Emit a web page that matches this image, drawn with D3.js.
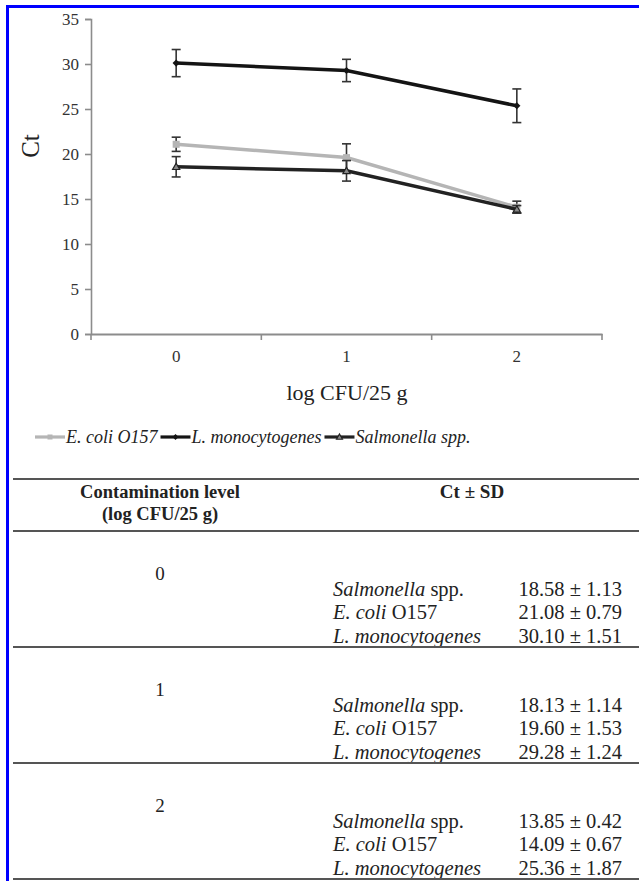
<!DOCTYPE html>
<html><head><meta charset="utf-8">
<script src="https://cdn.jsdelivr.net/npm/d3@7"></script>
<style>body{margin:0;background:#fff;} svg{display:block;} svg text{font-family:"Liberation Serif","Times New Roman",Times,"DejaVu Serif",serif;}</style>
</head><body>
<svg id="c" width="639" height="881"></svg>
<script>
const levels = ["0", "1", "2"];
const yTicks = [0, 5, 10, 15, 20, 25, 30, 35];
const seriesNames = ["E. coli O157", "L. monocytogenes", "Salmonella spp."];
const ecoliMean = [21.08, 19.60, 14.09];
const ecoliSD = [0.79, 1.53, 0.67];
const listeriaMean = [30.10, 29.28, 25.36];
const listeriaSD = [1.51, 1.24, 1.87];
const salmMean = [18.58, 18.13, 13.85];
const salmSD = [1.13, 1.14, 0.42];
const tableOrder = [["Salmonella", " spp.", 2], ["E. coli", " O157", 0], ["L. monocytogenes", "", 1]];
const xTitle = "log CFU/25 g";
const yTitle = "Ct";

const series = [
  {name: seriesNames[0], mean: ecoliMean, sd: ecoliSD, color: "#b5b5b5", marker: "square"},
  {name: seriesNames[1], mean: listeriaMean, sd: listeriaSD, color: "#141414", marker: "diamond"},
  {name: seriesNames[2], mean: salmMean, sd: salmSD, color: "#222222", marker: "triangle"}
];

const svg = d3.select("#c");

// frame
svg.append("rect").attr("x", 7.5).attr("y", 6.5).attr("width", 800).attr("height", 1000)
  .attr("fill", "none").attr("stroke", "#0000ff").attr("stroke-width", 3);

const x = d3.scaleBand().domain(levels).range([91, 602]);
const y = d3.scaleLinear().domain([0, 35]).range([334, 19]);

// axes
const yAxis = svg.append("g").attr("transform", "translate(91,0)")
  .call(d3.axisLeft(y).tickValues(yTicks).tickSize(6).tickPadding(6));
yAxis.selectAll("path, line").attr("stroke", "#8c8c8c").attr("stroke-width", 1.6);
yAxis.selectAll("text").attr("font-size", 17).attr("fill", "#333");
yAxis.attr("font-family", null);

const xAxis = svg.append("g").attr("transform", "translate(0,334)")
  .call(d3.axisBottom(x).tickSize(0).tickPadding(16));
xAxis.selectAll("path").attr("stroke", "#8c8c8c").attr("stroke-width", 2);
xAxis.selectAll("text").attr("font-size", 17).attr("fill", "#333");
xAxis.attr("font-family", null);
const bounds = levels.map(l => x(l)).concat([x(levels[levels.length-1]) + x.bandwidth()]);
xAxis.selectAll("line.b").data(bounds).enter().append("line").attr("class", "b")
  .attr("x1", d => d).attr("x2", d => d).attr("y1", 0).attr("y2", 6)
  .attr("stroke", "#8c8c8c").attr("stroke-width", 1.6);

svg.append("text").attr("x", 30).attr("y", 146).attr("transform", "rotate(-90,30,146)")
  .attr("text-anchor", "middle").attr("dominant-baseline", "central")
  .attr("font-size", 25).attr("fill", "#222").text(yTitle);
svg.append("text").attr("x", 347).attr("y", 400).attr("text-anchor", "middle")
  .attr("font-size", 22).attr("fill", "#222").text(xTitle);

const cx = l => x(l) + x.bandwidth() / 2;

function marker(g, type, px, py, color, s) {
  if (type === "square") {
    g.append("rect").attr("x", px - s/2).attr("y", py - s/2).attr("width", s).attr("height", s).attr("fill", color);
  } else if (type === "diamond") {
    g.append("path").attr("d", `M${px},${py - s*0.6}L${px + s*0.6},${py}L${px},${py + s*0.6}L${px - s*0.6},${py}Z`).attr("fill", color);
  } else {
    g.append("path").attr("d", `M${px},${py - s*0.6}L${px + s*0.6},${py + s*0.45}L${px - s*0.6},${py + s*0.45}Z`)
      .attr("fill", "#888").attr("stroke", color).attr("stroke-width", 1.2);
  }
}

const line = d3.line().x((d, i) => cx(levels[i])).y(d => y(d));
const plot = svg.append("g");
[1, 0, 2].forEach(si => {
  const s = series[si];
  const g = plot.append("g");
  g.append("path").attr("d", line(s.mean)).attr("fill", "none").attr("stroke", s.color).attr("stroke-width", 3.5);
  s.mean.forEach((m, i) => {
    const px = cx(levels[i]);
    const ec = "#333";
    g.append("line").attr("x1", px).attr("x2", px).attr("y1", y(m - s.sd[i])).attr("y2", y(m + s.sd[i])).attr("stroke", ec).attr("stroke-width", 1.6);
    [m - s.sd[i], m + s.sd[i]].forEach(v => g.append("line").attr("x1", px - 4.5).attr("x2", px + 4.5).attr("y1", y(v)).attr("y2", y(v)).attr("stroke", ec).attr("stroke-width", 1.6));
    marker(g, s.marker, px, y(m), s.color, s.marker === "square" ? 7 : 6);
  });
});

// legend
const leg = svg.append("g");
let lx = 35;
const ly = 437;
series.forEach(s => {
  leg.append("line").attr("x1", lx).attr("x2", lx + 30).attr("y1", ly).attr("y2", ly).attr("stroke", s.color).attr("stroke-width", 3.2);
  marker(leg, s.marker, lx + 15, ly, s.color, 5);
  const t = leg.append("text").attr("x", lx + 31).attr("y", ly).attr("dominant-baseline", "central")
    .attr("font-style", "italic").attr("font-size", 18).attr("fill", "#222").text(s.name);
  lx += 31 + t.node().getComputedTextLength() + 3;
});

// table
const tb = svg.append("g");
const hl = (yy) => tb.append("line").attr("x1", 13).attr("x2", 639).attr("y1", yy).attr("y2", yy).attr("stroke", "#555").attr("stroke-width", 2);
hl(479); hl(531);
tb.append("text").attr("x", 160).attr("y", 498).attr("text-anchor", "middle")
  .attr("font-weight", "bold").attr("font-size", 18.5).attr("fill", "#222").text("Contamination level");
tb.append("text").attr("x", 160).attr("y", 520).attr("text-anchor", "middle")
  .attr("font-weight", "bold").attr("font-size", 18.5).attr("fill", "#222").text("(log CFU/25 g)");
tb.append("text").attr("x", 472).attr("y", 498).attr("text-anchor", "middle")
  .attr("font-weight", "bold").attr("font-size", 19).attr("fill", "#222").text("Ct \u00b1 SD");

const rowH = 116;
levels.forEach((l, i) => {
  const top = 531 + i * rowH;
  tb.append("text").attr("x", 160).attr("y", top + 49).attr("text-anchor", "middle")
    .attr("font-size", 19).attr("fill", "#222").text(l);
  tableOrder.forEach((r, j) => {
    const s = series[r[2]];
    const t = tb.append("text").attr("x", 333).attr("y", top + 65 + j * 23.3)
      .attr("font-size", 20.5).attr("fill", "#222");
    t.append("tspan").attr("font-style", "italic").text(r[0]);
    if (r[1]) t.append("tspan").text(r[1]);
    tb.append("text").attr("x", 622).attr("y", top + 65 + j * 23.3).attr("text-anchor", "end")
      .attr("font-size", 20.5).attr("fill", "#222").text(s.mean[i].toFixed(2) + " \u00b1 " + s.sd[i].toFixed(2));
  });
  hl(top + rowH);
});
</script>
</body></html>
